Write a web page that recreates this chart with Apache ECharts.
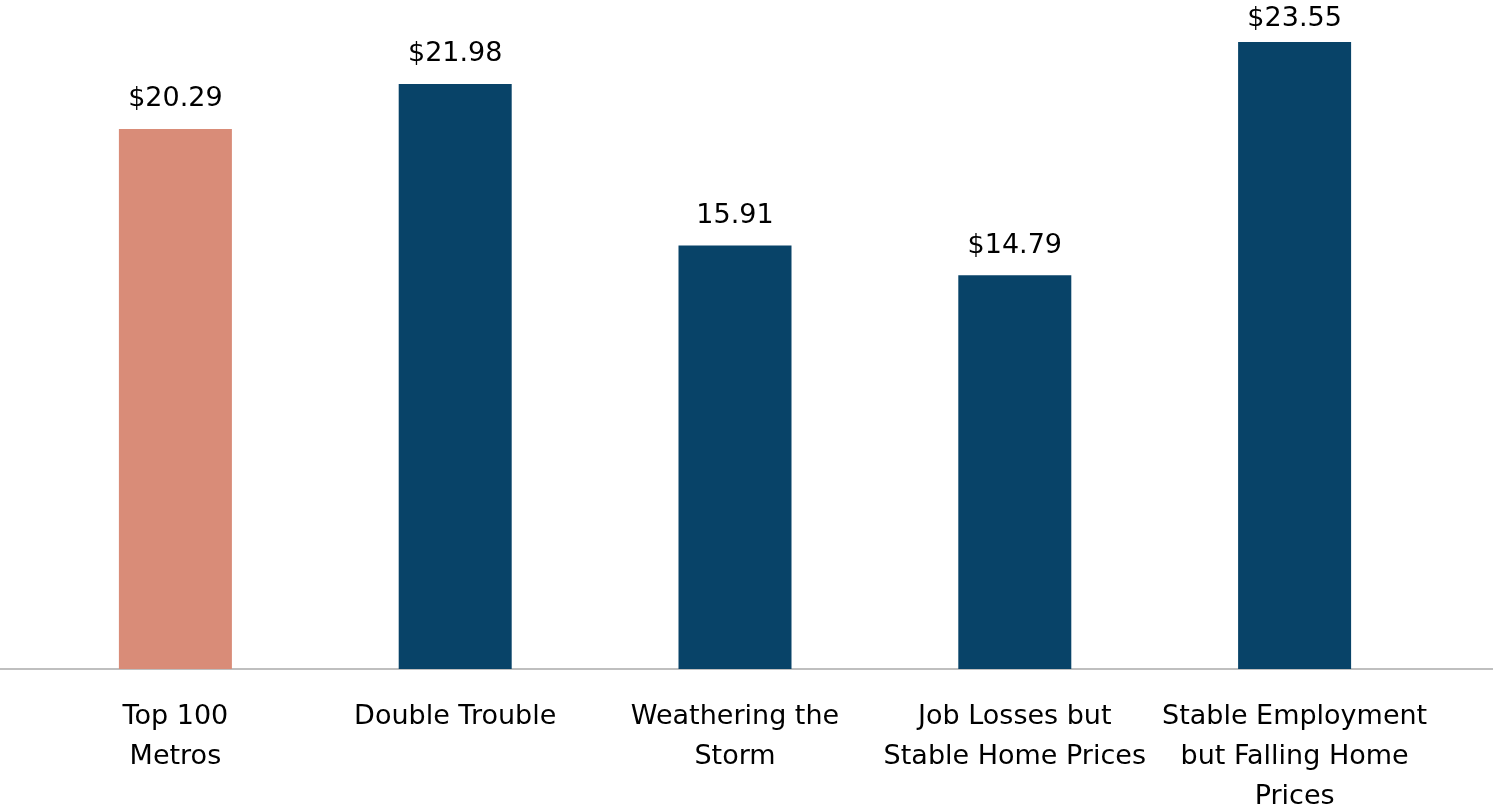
<!DOCTYPE html>
<html>
<head>
<meta charset="utf-8">
<script src="https://cdn.jsdelivr.net/npm/echarts@6/dist/echarts.min.js"></script>
<style>html,body{margin:0;padding:0;background:#fff;}#c{width:1493px;height:808px;}</style>
</head>
<body>
<div id="c"></div>
<script>
const categories = ["Top 100\nMetros", "Double Trouble", "Weathering the\nStorm", "Job Losses but\nStable Home Prices", "Stable Employment\nbut Falling Home\nPrices"];
const values = [20.29, 21.98, 15.91, 14.79, 23.55];
const valueLabels = ["$20.29", "$21.98", "15.91", "$14.79", "$23.55"];
const barColors = ["#D98C78", "#084368", "#084368", "#084368", "#084368"];

const chart = echarts.init(document.getElementById('c'), null, {renderer: 'canvas'});
const font = '"DejaVu Sans", sans-serif';
chart.setOption({
  animation: false,
  grid: [
    {left: 35.5, right: 58.5, top: 3.5, bottom: 139, outerBoundsMode: 'none', containLabel: false},
    {left: 0, right: 0, top: 3.5, bottom: 139, outerBoundsMode: 'none', containLabel: false}
  ],
  xAxis: [
    {
      type: 'category', gridIndex: 0, data: categories,
      axisLine: {show: false}, axisTick: {show: false},
      axisLabel: {color: '#000', fontFamily: font, fontSize: 27, lineHeight: 40, margin: 28, interval: 0, hideOverlap: false}
    },
    {
      type: 'value', gridIndex: 1, min: 0, max: 1,
      axisLine: {show: true, lineStyle: {color: '#BFBFBF', width: 2}},
      axisTick: {show: false}, axisLabel: {show: false}, splitLine: {show: false}
    }
  ],
  yAxis: [
    {type: 'value', gridIndex: 0, min: 0, max: 25, show: false, splitLine: {show: false}},
    {type: 'value', gridIndex: 1, min: 0, max: 1, show: false, splitLine: {show: false}}
  ],
  series: [{
    type: 'bar', xAxisIndex: 0, yAxisIndex: 0, z: 3,
    barWidth: 113,
    data: values.map((v, i) => ({
      value: v,
      itemStyle: {color: barColors[i]},
      label: i === values.length - 1 ? {distance: 10} : undefined
    })),
    label: {
      show: true, position: 'top', distance: 16,
      color: '#000', fontFamily: font, fontSize: 27,
      formatter: p => valueLabels[p.dataIndex]
    }
  }]
});
</script>
</body>
</html>
